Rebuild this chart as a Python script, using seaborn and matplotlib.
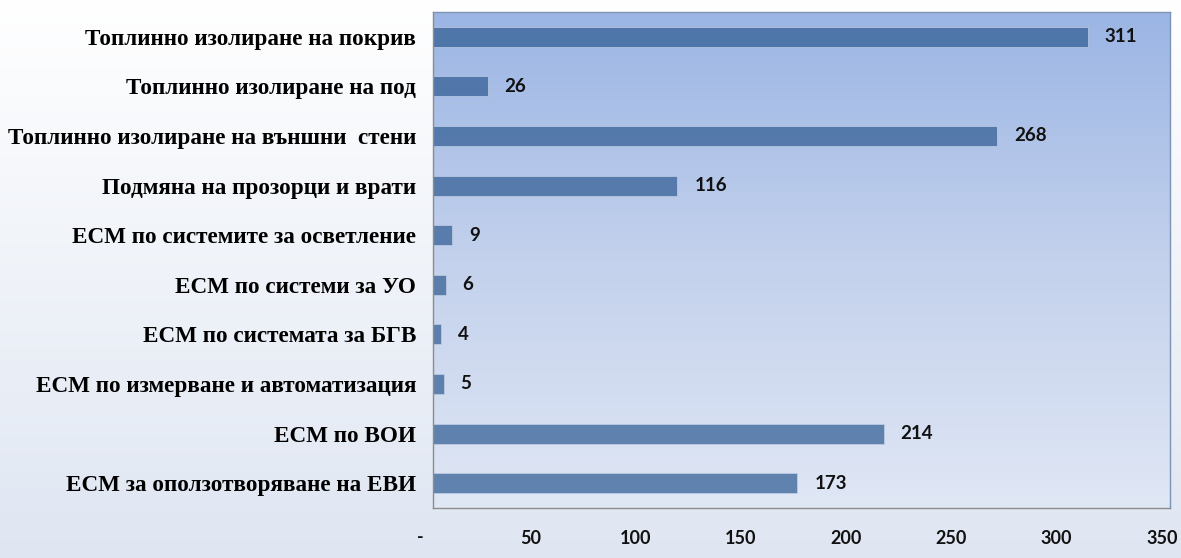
import numpy as np
import pandas as pd
import seaborn as sns
import matplotlib.pyplot as plt
from matplotlib.colors import LinearSegmentedColormap

measures = [
    "Топлинно изолиране на покрив",
    "Топлинно изолиране на под",
    "Топлинно изолиране на външни  стени",
    "Подмяна на прозорци и врати",
    "ЕСМ по системите за осветление",
    "ЕСМ по системи за УО",
    "ЕСМ по системата за БГВ",
    "ЕСМ по измерване и автоматизация",
    "ЕСМ по ВОИ",
    "ЕСМ за оползотворяване на ЕВИ",
]
counts = [311, 26, 268, 116, 9, 6, 4, 5, 214, 173]
xticks = [0, 50, 100, 150, 200, 250, 300, 350]
xtick_labels = ["-", "50", "100", "150", "200", "250", "300", "350"]

df = pd.DataFrame({"measure": measures, "count": counts})

sns.set_theme(style="white")
plt.rcParams["font.family"] = ["Liberation Serif", "DejaVu Serif"]
sans = ["Lato", "DejaVu Sans"]

fig = plt.figure(figsize=(11.81, 5.58), dpi=100)

# figure background gradient
bg = fig.add_axes([0, 0, 1, 1], zorder=-10)
bg_cmap = LinearSegmentedColormap.from_list("bg", ["#ffffff", "#dfe6f2"])
grad = np.linspace(0, 1, 256).reshape(-1, 1)
bg.imshow(grad, aspect="auto", cmap=bg_cmap, extent=[0, 1, 0, 1], origin="upper")
bg.set_axis_off()

ax = fig.add_axes([433 / 1181, 1 - 508 / 558, (1170 - 433) / 1181, (508 - 12) / 558])
ax.set_facecolor("none")

# plot area gradient
pa_cmap = LinearSegmentedColormap.from_list("pa", ["#9bb5e4", "#c3d1ec", "#e0e7f5"])
ax.imshow(grad, aspect="auto", cmap=pa_cmap, extent=[0, 350, 9.5, -0.5],
          origin="upper", zorder=0)

sns.barplot(data=df, x="count", y="measure", orient="h", color="#325e94",
            width=0.4, saturation=1, alpha=0.73, ax=ax, zorder=2,
            edgecolor="#c8d4ea", linewidth=0.6)

for i, v in enumerate(counts):
    ax.annotate(str(v), xy=(v, i), xytext=(17, 0), textcoords="offset pixels",
                ha="left", va="center", fontsize=13.5, fontweight="bold",
                family=sans, color="#111111")

ax.set_xlim(0, 350)
ax.set_ylim(9.5, -0.5)
ax.set_xticks(xticks)
ax.set_xticklabels([])
# Excel draws the value-axis labels slightly left of their gridline positions
for t, lbl in zip(xticks, xtick_labels):
    shift = -13 if lbl == "-" else -8
    ax.annotate(lbl, xy=(t, 0), xycoords=ax.get_xaxis_transform(),
                xytext=(shift, -30), textcoords="offset pixels",
                ha="center", va="center", fontsize=13, fontweight="bold",
                family=sans, color="#111111")
ax.tick_params(axis="x", length=0)
ax.tick_params(axis="y", length=0, pad=12)
ax.set_yticks(range(len(measures)))
ax.set_yticklabels(measures, fontsize=16.7, fontweight="bold", color="#000000")
ax.set_xlabel("")
ax.set_ylabel("")

for side in ["left", "bottom"]:
    ax.spines[side].set_color("#8c8c8c")
    ax.spines[side].set_linewidth(1)
for side in ["top", "right"]:
    ax.spines[side].set_color("#7d93b3")
    ax.spines[side].set_linewidth(1)

fig.savefig("out.png", dpi=100)
